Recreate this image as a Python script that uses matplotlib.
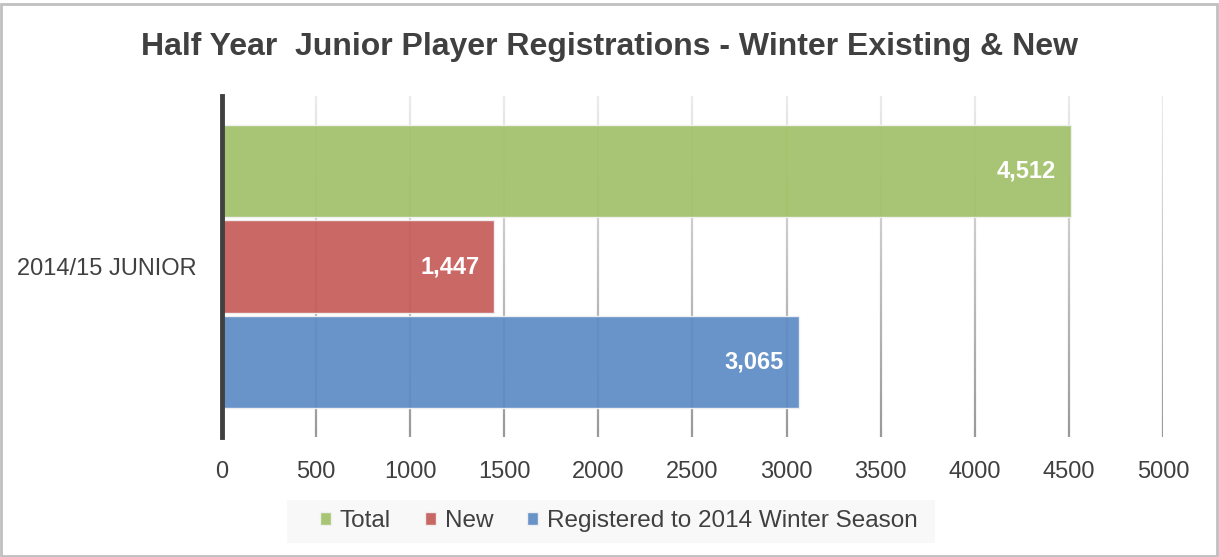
import matplotlib.pyplot as plt
from matplotlib.collections import LineCollection
from matplotlib.patches import Rectangle
import numpy as np

plt.rcParams['font.family'] = ['Liberation Sans', 'DejaVu Sans']

category = '2014/15 JUNIOR'
series = ['Total', 'New', 'Registered to 2014 Winter Season']
values = [4512, 1447, 3065]
colors = ['#a2c16a', '#c55d59', '#5e8cc5']
offsets = [0.28, 0.0, -0.28]
xticks = np.arange(0, 5001, 500)
text_col = '#404040'

fig = plt.figure(figsize=(12.19, 5.57), dpi=100)
ax = fig.add_axes([0.1821, 0.2154, 0.954 - 0.1821, 0.8276 - 0.2154])

# gridlines fade from light at the top to mid grey at the bottom
n = 60
ys = np.linspace(0.5, -0.5, n + 1)
top = np.array([0.92, 0.92, 0.92])
bot = np.array([0.60, 0.60, 0.60])
for x in xticks[1:]:
    segs = [[(x, ys[i]), (x, ys[i + 1])] for i in range(n)]
    cols = [top + (bot - top) * i / (n - 1) for i in range(n)]
    ax.add_collection(LineCollection(segs, colors=cols, linewidths=1.6, zorder=0))

handles = []
bar_h = 0.272
for name, v, c, off in zip(series, values, colors, offsets):
    b = ax.barh(off, v, height=bar_h, color=c, alpha=0.93, edgecolor='#f2f2f2',
                lw=1.0, zorder=2, label=name)
    handles.append(b)
    ax.text(v - 80, off, f'{v:,}', ha='right', va='center', color='white',
            fontsize=17, fontweight='bold', zorder=3)

ax.set_xlim(0, 5000)
ax.set_ylim(-0.5, 0.5)
ax.set_xticks(xticks)
ax.set_xticklabels([str(t) for t in xticks], fontsize=17, color=text_col)
ax.set_yticks([0])
ax.set_yticklabels([category], fontsize=17, color=text_col)
ax.tick_params(axis='both', length=0)
ax.tick_params(axis='x', pad=17)
ax.tick_params(axis='y', pad=18)
for s in ['top', 'right', 'bottom']:
    ax.spines[s].set_visible(False)
ax.spines['left'].set_color(text_col)
ax.spines['left'].set_linewidth(3.5)
ax.spines['left'].set_zorder(4)

fig.text(0.5, 0.916, 'Half Year  Junior Player Registrations - Winter Existing & New',
         ha='center', va='center', fontsize=23, fontweight='bold', color=text_col)

# legend background box
W, H = 1219, 557
fig.patches.append(Rectangle((287 / W, 1 - 543 / H), (935 - 287) / W, 43 / H,
                             transform=fig.transFigure, facecolor='#f8f8f8',
                             edgecolor='none', zorder=0))
leg = fig.legend(handles=handles, labels=series, loc='center left',
                 bbox_to_anchor=(320 / W, 1 - 521 / H), ncol=3, frameon=False,
                 fontsize=17.5, handlelength=0.45, handleheight=0.45,
                 handletextpad=0.36, columnspacing=1.4, borderpad=0,
                 borderaxespad=0)
for t in leg.get_texts():
    t.set_color(text_col)

# outer chart border
fig.patches.append(Rectangle((0.001, 0.001), 0.997, 0.991, transform=fig.transFigure,
                             fill=False, edgecolor='#c0c0c0', lw=2.0))

fig.savefig('out.png', dpi=100)
